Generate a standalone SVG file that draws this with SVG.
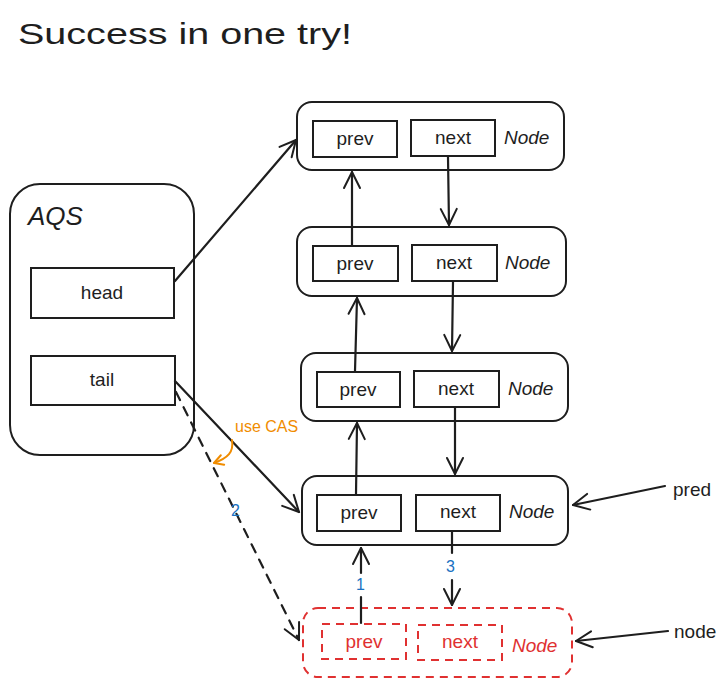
<svg xmlns="http://www.w3.org/2000/svg" width="728" height="686" viewBox="0 0 728 686">
<defs>
<marker id="ah" markerUnits="userSpaceOnUse" markerWidth="24" markerHeight="24" refX="20" refY="12" orient="auto" overflow="visible">
<path d="M4,4 L20,12 L4,20" fill="none" stroke="#1e1e1e" stroke-width="2" stroke-linecap="round" stroke-linejoin="round"/>
</marker>
<marker id="ahO" markerUnits="userSpaceOnUse" markerWidth="16" markerHeight="16" refX="12" refY="8" orient="auto" overflow="visible">
<path d="M3,3 L12,8 L3,13" fill="none" stroke="#f08c00" stroke-width="2" stroke-linecap="round" stroke-linejoin="round"/>
</marker>
</defs>
<style>
.t{font-family:"Liberation Sans","DejaVu Sans",sans-serif;fill:#1e1e1e}
.box{fill:none;stroke:#1e1e1e;stroke-width:2}
.r{fill:none;stroke:#e03131;stroke-width:2;stroke-dasharray:8 6}
.rt{font-family:"Liberation Sans","DejaVu Sans",sans-serif;fill:#e03131}
.c{fill:none;stroke:#1e1e1e;stroke-width:2.2;stroke-linecap:round}
.b{font-family:"Liberation Sans","DejaVu Sans",sans-serif;fill:#1971c2;font-size:16px}
.lbl{font-size:19px;text-anchor:middle}
.nd{font-size:19px;font-style:italic}
</style>
<rect width="728" height="686" fill="#ffffff"/>
<text class="t" x="18" y="44" font-size="30" textLength="334" lengthAdjust="spacingAndGlyphs">Success in one try!</text>

<g id="aqs">
<rect class="box" x="10" y="184" width="184" height="271" rx="30"/>
<text class="t" x="28" y="225" font-size="26" font-style="italic">AQS</text>
<g id="head"><rect class="box" x="31" y="268" width="143" height="50"/><text class="t lbl" x="102" y="299">head</text></g>
<g id="tail"><rect class="box" x="31" y="356" width="144" height="49"/><text class="t lbl" x="102" y="386">tail</text></g>
</g>

<g id="node1">
<rect class="box" x="297" y="102" width="267" height="68" rx="15"/>
<rect class="box" x="313" y="121" width="84" height="36"/><text class="t lbl" x="355" y="145">prev</text>
<rect class="box" x="411" y="120" width="84" height="36"/><text class="t lbl" x="453" y="144">next</text>
<text class="t nd" x="504" y="144">Node</text>
</g>
<g id="node2">
<rect class="box" x="297" y="227" width="269" height="69" rx="15"/>
<rect class="box" x="313" y="246" width="85" height="35"/><text class="t lbl" x="355" y="270">prev</text>
<rect class="box" x="412" y="245" width="85" height="36"/><text class="t lbl" x="454" y="269">next</text>
<text class="t nd" x="505" y="269">Node</text>
</g>
<g id="node3">
<rect class="box" x="301" y="353" width="267" height="68" rx="15"/>
<rect class="box" x="317" y="372" width="83" height="35"/><text class="t lbl" x="358" y="396">prev</text>
<rect class="box" x="414" y="371" width="85" height="36"/><text class="t lbl" x="456" y="395">next</text>
<text class="t nd" x="508" y="395">Node</text>
</g>
<g id="node4">
<rect class="box" x="302" y="476" width="266" height="69" rx="15"/>
<rect class="box" x="317" y="495" width="84" height="36"/><text class="t lbl" x="359" y="519">prev</text>
<rect class="box" x="416" y="495" width="84" height="36"/><text class="t lbl" x="458" y="518">next</text>
<text class="t nd" x="509" y="518">Node</text>
</g>
<g id="newnode">
<rect class="r" x="303" y="608" width="269" height="69" rx="15"/>
<rect class="r" x="322" y="624" width="84" height="35"/><text class="rt lbl" x="364" y="648">prev</text>
<rect class="r" x="418" y="625" width="84" height="35"/><text class="rt lbl" x="460" y="648">next</text>
<text class="rt nd" x="512" y="652">Node</text>
</g>
<g id="pred"><text class="t" x="673" y="496" font-size="19">pred</text></g>
<g id="nodelabel"><text class="t" x="674" y="638" font-size="19">node</text></g>

<g id="connectors">
<line class="c" x1="175" y1="281" x2="296" y2="140" marker-end="url(#ah)"/>
<line class="c" x1="175" y1="381" x2="299" y2="512" marker-end="url(#ah)"/>
<line class="c" x1="176" y1="392" x2="299" y2="640" stroke-dasharray="9 8" marker-end="url(#ah)"/>
<line class="c" x1="448" y1="157" x2="449" y2="225" marker-end="url(#ah)"/>
<line class="c" x1="352" y1="245" x2="352" y2="172" marker-end="url(#ah)"/>
<line class="c" x1="453" y1="282" x2="452" y2="351" marker-end="url(#ah)"/>
<line class="c" x1="355" y1="371" x2="357" y2="298" marker-end="url(#ah)"/>
<line class="c" x1="455" y1="408" x2="455" y2="474" marker-end="url(#ah)"/>
<line class="c" x1="356" y1="494" x2="357" y2="423" marker-end="url(#ah)"/>
<line class="c" x1="361" y1="623" x2="361" y2="597"/>
<line class="c" x1="361" y1="573" x2="361" y2="548" marker-end="url(#ah)"/>
<line class="c" x1="452" y1="532" x2="452" y2="553"/>
<line class="c" x1="452" y1="580" x2="452" y2="605" marker-end="url(#ah)"/>
<line class="c" x1="665" y1="486" x2="573" y2="505" stroke-width="3" marker-end="url(#ah)"/>
<line class="c" x1="668" y1="631" x2="576" y2="641" stroke-width="2.5" marker-end="url(#ah)"/>
<path d="M232,440 C234,452 228,458 214,463" fill="none" stroke="#f08c00" stroke-width="2" stroke-linecap="round" marker-end="url(#ahO)"/>
<text x="235" y="432" font-family="Liberation Sans, DejaVu Sans, sans-serif" font-size="16" fill="#f08c00">use CAS</text>
<text class="b" x="231" y="516">2</text>
<text class="b" x="356" y="590">1</text>
<text class="b" x="446" y="572">3</text>
</g>
</svg>
